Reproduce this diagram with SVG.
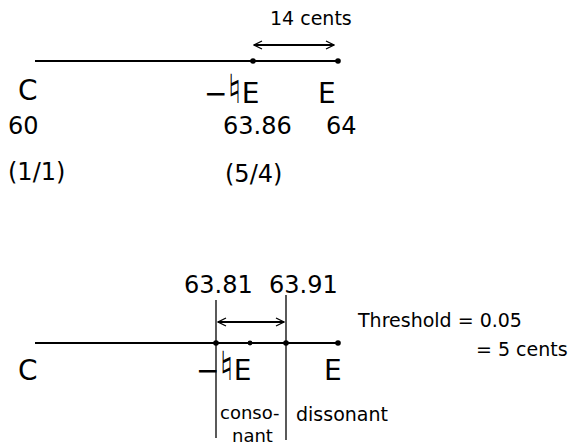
<svg xmlns="http://www.w3.org/2000/svg" width="583" height="448" viewBox="0 0 583 448">
<defs>
<marker id="ah" viewBox="0 0 10 10" refX="9" refY="5" markerWidth="10" markerHeight="10" markerUnits="userSpaceOnUse" orient="auto-start-reverse">
<path d="M1,1 L9,5 L1,9" fill="none" stroke="#000" stroke-width="1.3"/>
</marker>
<style>
.ln{stroke:#000;stroke-width:2;fill:none}
.tk{stroke:#000;stroke-width:1.3;fill:none}
.ar{stroke:#000;stroke-width:1.8;fill:none;marker-start:url(#ah);marker-end:url(#ah)}
.dot{fill:#000}
text{font-family:"DejaVu Sans","Liberation Sans",sans-serif;fill:#000}
.nat{font-family:"DejaVu Sans",sans-serif;font-size:40px}
.big{font-size:28px}
.mid{font-size:24px}
.sm{font-size:19px}
.xs{font-size:18px}
</style>
</defs>
<rect width="583" height="448" fill="#fff"/>
<g id="connectors">
<line class="ln" x1="35" y1="61" x2="338" y2="61"/>
<line class="ar" x1="254" y1="45" x2="334" y2="45"/>
<line class="ln" x1="35" y1="343" x2="338" y2="343"/>
<line class="tk" x1="216" y1="300" x2="216" y2="438"/>
<line class="tk" x1="286" y1="295" x2="286" y2="440"/>
<line class="ar" x1="218" y1="322" x2="284" y2="322"/>
</g>
<g id="top-C"><text class="big" x="18" y="100">C</text><text class="mid" x="8" y="134">60</text><text class="mid" x="8" y="180">(1/1)</text></g>
<g id="top-justE"><circle class="dot" cx="253" cy="61" r="2.8"/><text class="big" x="204" y="103">−<tspan class="nat">♮</tspan>E</text><text class="mid" x="223" y="134">63.86</text><text class="mid" x="225" y="182">(5/4)</text></g>
<g id="top-E"><circle class="dot" cx="338" cy="61" r="2.8"/><text class="big" x="318" y="103">E</text><text class="mid" x="326" y="134">64</text></g>
<g id="top-label"><text class="sm" x="270" y="25">14 cents</text></g>
<g id="bot-C"><text class="big" x="18" y="380">C</text></g>
<g id="bot-lower"><circle class="dot" cx="216" cy="343" r="2.8"/><text class="mid" x="184" y="293">63.81</text></g>
<g id="bot-justE"><circle class="dot" cx="250" cy="343" r="2.4"/><text class="big" x="196" y="380">−<tspan class="nat">♮</tspan>E</text></g>
<g id="bot-upper"><circle class="dot" cx="286" cy="343" r="2.8"/><text class="mid" x="269" y="293">63.91</text></g>
<g id="bot-E"><circle class="dot" cx="338" cy="343" r="2.8"/><text class="big" x="324" y="380">E</text></g>
<g id="threshold"><text class="sm" x="358" y="327">Threshold = 0.05</text><text class="sm" x="476" y="356">= 5 cents</text></g>
<g id="consonant"><text class="xs" x="220" y="419">conso-</text><text class="xs" x="232" y="442">nant</text></g>
<g id="dissonant"><text class="sm" x="296" y="421">dissonant</text></g>
</svg>
